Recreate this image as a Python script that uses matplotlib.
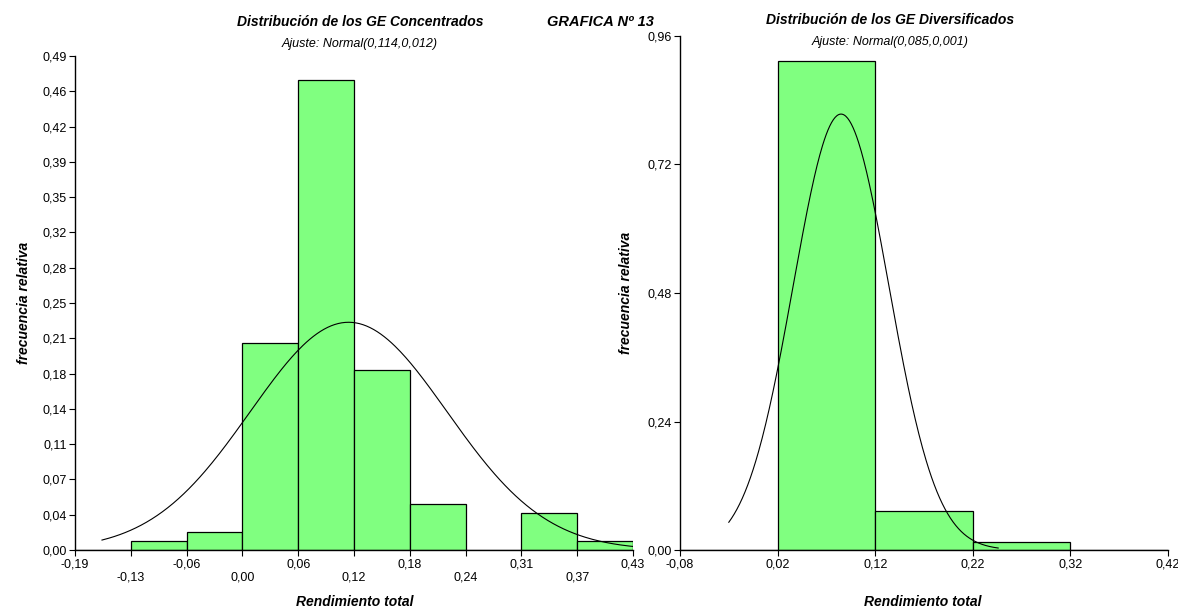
"""
Histogramas de rendimiento total - GE Concentrados y Diversificados
GRAFICA Nº 13
"""

import numpy as np
import matplotlib.pyplot as plt

plt.rcParams['font.family'] = ['Liberation Sans', 'DejaVu Sans']

# --- Panel izquierdo: GE Concentrados ---
conc_bordes = [-0.19, -0.128, -0.066, -0.004, 0.058, 0.12, 0.182, 0.244, 0.306, 0.368, 0.43]
conc_frec = [0.0, 0.0093, 0.018, 0.2055, 0.466, 0.179, 0.046, 0.0, 0.0367, 0.0093]
conc_xticks = ['-0,19', '-0,13', '-0,06', '0,00', '0,06', '0,12', '0,18', '0,24', '0,31', '0,37', '0,43']
conc_yticks = ['0,00', '0,04', '0,07', '0,11', '0,14', '0,18', '0,21', '0,25',
               '0,28', '0,32', '0,35', '0,39', '0,42', '0,46', '0,49']
conc_media, conc_sd = 0.114, 0.1095
conc_curva_rango = (-0.16, 0.43)

# --- Panel derecho: GE Diversificados ---
div_bordes = [-0.08, 0.02, 0.12, 0.22, 0.32, 0.42]
div_frec = [0.0, 0.913, 0.0729, 0.0156, 0.0]
div_xticks = ['-0,08', '0,02', '0,12', '0,22', '0,32', '0,42']
div_yticks = ['0,00', '0,24', '0,48', '0,72', '0,96']
div_media, div_sd = 0.085, 0.049
div_curva_rango = (-0.03, 0.246)

VERDE = '#80FF80'


def curva_normal(media, sd, ancho, rango):
    """Densidad normal ajustada, escalada al ancho de clase"""
    x = np.linspace(rango[0], rango[1], 300)
    y = ancho * np.exp(-0.5 * ((x - media) / sd) ** 2) / (sd * np.sqrt(2 * np.pi))
    return x, y


def estilo_ejes(ax):
    for lado in ['top', 'right']:
        ax.spines[lado].set_visible(False)
    ax.spines['left'].set_linewidth(1.0)
    ax.spines['bottom'].set_linewidth(1.0)
    ax.tick_params(axis='both', direction='out', length=4, width=0.8,
                   labelsize=9, colors='black', pad=2)


fig = plt.figure(figsize=(11.78, 6.10), dpi=100)

# Panel izquierdo
ax1 = fig.add_axes([75 / 1178, 60 / 610, 558 / 1178, 494 / 610])
izq = np.array(conc_bordes[:-1])
anchos = np.diff(conc_bordes)
ax1.bar(izq, conc_frec, width=anchos, align='edge', color=VERDE,
        edgecolor='black', linewidth=0.9)
xc, yc = curva_normal(conc_media, conc_sd, anchos[0], conc_curva_rango)
ax1.plot(xc, yc, color='black', linewidth=0.8)
ax1.set_xlim(conc_bordes[0], conc_bordes[-1])
ax1.set_ylim(0, 0.49)
ax1.set_xticks(conc_bordes)
# etiquetas escalonadas en dos filas
ax1.set_xticklabels([t if i % 2 == 0 else '\n' + t for i, t in enumerate(conc_xticks)],
                    linespacing=1.15)
ax1.set_yticks(np.linspace(0, 0.49, len(conc_yticks)))
ax1.set_yticklabels(conc_yticks)
estilo_ejes(ax1)
ax1.set_ylabel('frecuencia relativa', fontsize=10, fontweight='bold', style='italic', labelpad=8)

# Panel derecho
ax2 = fig.add_axes([680 / 1178, 60 / 610, 488 / 1178, 514 / 610])
izq2 = np.array(div_bordes[:-1])
anchos2 = np.diff(div_bordes)
ax2.bar(izq2, div_frec, width=anchos2, align='edge', color=VERDE,
        edgecolor='black', linewidth=0.9)
xd, yd = curva_normal(div_media, div_sd, anchos2[0], div_curva_rango)
ax2.plot(xd, yd, color='black', linewidth=0.8)
ax2.set_xlim(div_bordes[0], div_bordes[-1])
ax2.set_ylim(0, 0.96)
ax2.set_xticks(div_bordes)
ax2.set_xticklabels(div_xticks)
ax2.set_yticks(np.linspace(0, 0.96, len(div_yticks)))
ax2.set_yticklabels(div_yticks)
estilo_ejes(ax2)
ax2.set_ylabel('frecuencia relativa', fontsize=10, fontweight='bold', style='italic', labelpad=10)

# Etiquetas del eje x
fig.text(355 / 1178, 1 - 602 / 610, 'Rendimiento total', ha='center', va='center',
         fontsize=10, fontweight='bold', style='italic')
fig.text(923 / 1178, 1 - 602 / 610, 'Rendimiento total', ha='center', va='center',
         fontsize=10, fontweight='bold', style='italic')

# Títulos
fig.text(360 / 1178, 1 - 22 / 610, 'Distribución de los GE Concentrados', ha='center', va='center',
         fontsize=10, fontweight='bold', style='italic')
fig.text(360 / 1178, 1 - 44 / 610, 'Ajuste: Normal(0,114,0,012)', ha='center', va='center',
         fontsize=9, style='italic')
fig.text(600 / 1178, 1 - 22 / 610, 'GRAFICA Nº 13', ha='center', va='center',
         fontsize=10.5, fontweight='bold', style='italic')
fig.text(890 / 1178, 1 - 20 / 610, 'Distribución de los GE Diversificados', ha='center', va='center',
         fontsize=10, fontweight='bold', style='italic')
fig.text(890 / 1178, 1 - 42 / 610, 'Ajuste: Normal(0,085,0,001)', ha='center', va='center',
         fontsize=9, style='italic')

plt.savefig('out.png', dpi=100)
